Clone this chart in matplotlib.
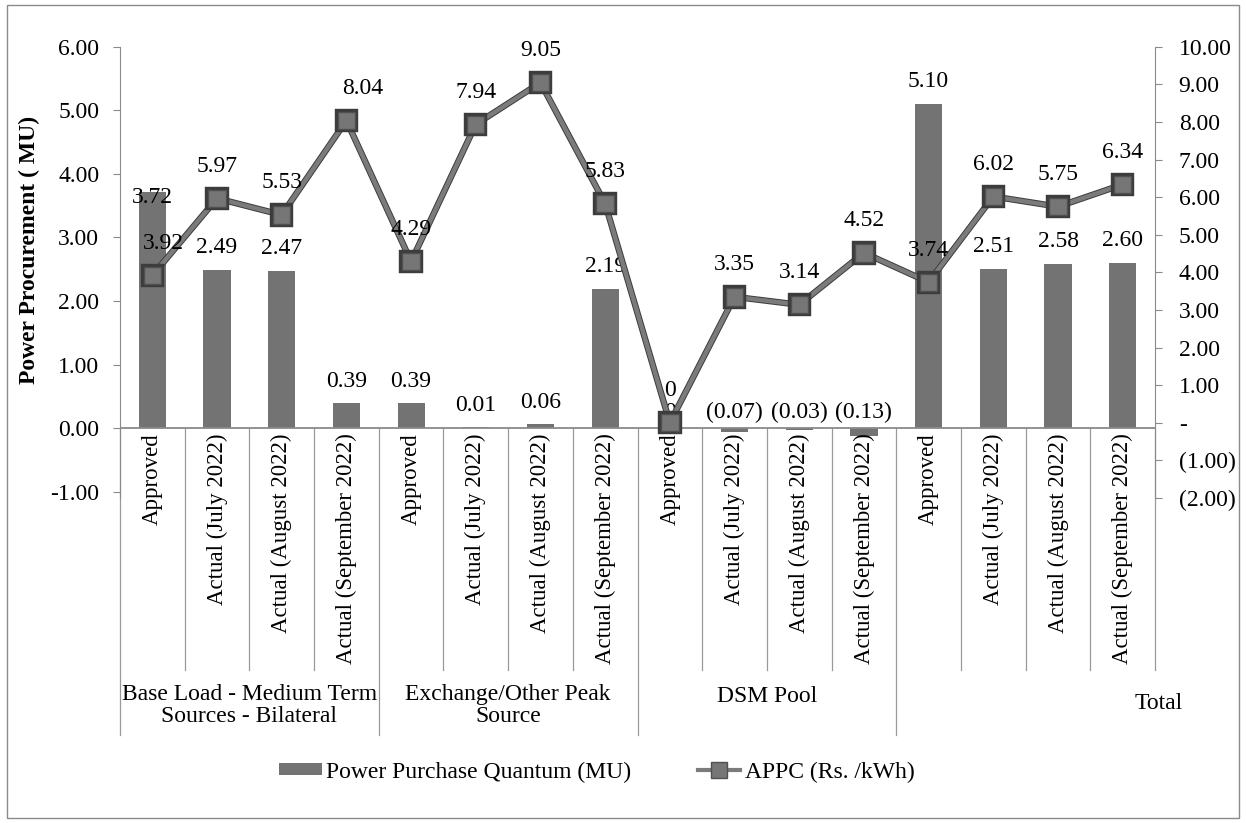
import numpy as np
import matplotlib.pyplot as plt
import matplotlib.patheffects as pe
from matplotlib.patches import Rectangle, Patch
from matplotlib.lines import Line2D

plt.rcParams['font.family'] = ['Liberation Serif', 'DejaVu Serif']

# data
groups = ['Base Load - Medium Term\nSources - Bilateral', 'Exchange/Other Peak\nSource', 'DSM Pool', 'Total']
periods = ['Approved', 'Actual (July 2022)', 'Actual (August 2022)', 'Actual (September 2022)']
quantum_mu = [3.72, 2.49, 2.47, 0.39,
              0.39, 0.01, 0.06, 2.19,
              0.0, -0.07, -0.03, -0.13,
              5.10, 2.51, 2.58, 2.60]
appc = [3.92, 5.97, 5.53, 8.04,
        4.29, 7.94, 9.05, 5.83,
        0.0, 3.35, 3.14, 4.52,
        3.74, 6.02, 5.75, 6.34]

FS = 17
BAR_C = '#737373'
LINE_C = '#7b7b7b'
AX_C = '#8a8a8a'


def fmt(v):
    if v == 0:
        return '0'
    if v < 0:
        return '(%.2f)' % abs(v)
    return '%.2f' % v


def fmt_right(v, pos=None):
    if abs(v) < 1e-9:
        return '-'
    if v < 0:
        return '(%.2f)' % abs(v)
    return '%.2f' % v


fig = plt.figure(figsize=(12.46, 8.23), dpi=100)
ax = fig.add_axes([0.0963, 0.395, 0.8307, 0.548])

n = len(quantum_mu)
x = np.arange(n)

ax.bar(x, quantum_mu, width=0.42, color=BAR_C, zorder=2)
ax.set_xlim(-0.5, n - 0.5)
ax.set_ylim(-1.1, 6)
ax.set_yticks(np.arange(-1, 7, 1))
ax.set_yticklabels(['%.2f' % t for t in np.arange(-1, 7, 1)], fontsize=FS)
ax.set_xticks([])
ax.axhline(0, color=AX_C, lw=1.3, zorder=3)
for s in ['top', 'bottom', 'right']:
    ax.spines[s].set_visible(False)
ax.spines['left'].set_color(AX_C)
ax.tick_params(axis='y', length=5, color=AX_C, pad=10)
ax.set_ylabel('Power Procurement ( MU)', fontsize=FS, fontweight='bold')
ax.yaxis.set_label_coords(-0.077, 0.55)

# bar value labels
bar_dy = {0: -4}
for i, v in enumerate(quantum_mu):
    if v > 0:
        ax.annotate(fmt(v), (i, v), xytext=(0, bar_dy.get(i, 16)), textcoords='offset points',
                    ha='center', va='center', fontsize=FS)
    else:
        ax.annotate(fmt(v), (i, 0), xytext=(0, 11), textcoords='offset points',
                    ha='center', va='center', fontsize=FS)

# category labels and separators below the zero line
xt = ax.get_xaxis_transform()
zero_frac = (0 - (-1.1)) / 7.1
for i in range(n):
    ax.annotate(periods[i % 4], (i, 0), xytext=(0, -4), textcoords='offset points',
                rotation=90, ha='center', va='top', fontsize=16.5, annotation_clip=False)
for b in range(n + 1):
    end = -0.525 if (b % 4 == 0 and b < n) else -0.381
    ax.plot([b - 0.5, b - 0.5], [zero_frac, end], transform=xt, color='#9a9a9a',
            lw=0.9, clip_on=False)
group_pos = [(1.5, -0.461), (5.5, -0.461), (9.5, -0.441), (15.55, -0.455)]
for g, (gx, gy) in zip(groups, group_pos):
    ax.text(gx, gy, g, transform=xt, ha='center', va='center', fontsize=FS,
            linespacing=1.05)

# APPC line on the right axis
ax2 = ax.twinx()
ax2.plot(x, appc, color=LINE_C, lw=3.2, marker='s', markersize=12.5,
         markerfacecolor='#767676', markeredgecolor='#505050', markeredgewidth=1,
         path_effects=[pe.Stroke(linewidth=4.6, foreground='#3c3c3c'), pe.Normal()],
         zorder=4)
ax2.set_ylim(-2, 10)
ax2.set_yticks(np.arange(-2, 11, 1))
ax2.yaxis.set_major_formatter(plt.FuncFormatter(fmt_right))
ax2.tick_params(axis='y', labelsize=FS, length=5, color=AX_C, pad=12)
for s in ['top', 'bottom', 'left']:
    ax2.spines[s].set_visible(False)
ax2.spines['right'].set_color(AX_C)

line_dx = {0: 8, 3: 12}
for i, v in enumerate(appc):
    ax2.annotate(fmt(v), (i, v), xytext=(line_dx.get(i, 0), 23), textcoords='offset points',
                 ha='center', va='center', fontsize=FS, zorder=5)

handles = [Patch(facecolor=BAR_C, edgecolor='none'),
           Line2D([], [], color=LINE_C, lw=3, marker='s', markersize=11,
                  markerfacecolor='#767676', markeredgecolor='#505050')]
fig.legend(handles, ['Power Purchase Quantum (MU)', 'APPC (Rs. /kWh)'],
           loc='center', bbox_to_anchor=(0.479, 0.062), ncol=2, frameon=False,
           fontsize=FS, handlelength=1.8, handleheight=0.45, handletextpad=0.2,
           columnspacing=2.8)

fig.add_artist(Rectangle((0.006, 0.006), 0.988, 0.988, transform=fig.transFigure,
                         fill=False, ec='#8a8a8a', lw=1))

fig.savefig('out.png', dpi=100)
